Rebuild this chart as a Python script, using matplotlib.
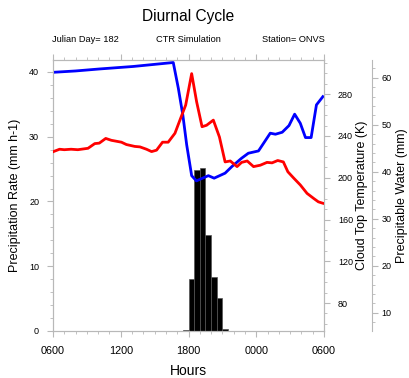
import numpy as np
import matplotlib
matplotlib.use("Agg")
import matplotlib.pyplot as plt
from matplotlib.ticker import MultipleLocator

plt.rcParams['font.family'] = ['Liberation Sans', 'DejaVu Sans']

# hours after 0600 local
bar_hours = [11.5, 12.0, 12.5, 13.0, 13.5, 14.0, 14.5, 15.0]
precip_rate = [0.1, 8.1, 24.9, 25.1, 14.9, 8.3, 5.1, 0.3]

ctt_hours = [0.0, 2.0, 4.1, 7.1, 10.65, 11.1, 11.5, 11.84, 12.28, 12.7, 13.76, 14.27,
             15.24, 15.84, 16.7, 17.3, 18.2, 19.24, 19.7, 20.3, 20.9, 21.4, 21.9,
             22.36, 22.86, 23.33, 23.9]
ctt = [301.0, 302.3, 304.2, 306.6, 310.4, 285.7, 260.0, 231.5, 202.0, 197.0, 202.0, 199.6,
       204.4, 210.7, 218.7, 223.5, 225.7, 242.7, 241.7, 243.6, 250.0, 260.9, 252.2,
       238.5, 238.5, 269.8, 277.7]

pw_hours = [0.04, 0.58, 1.0, 1.6, 2.2, 3.1, 3.7, 4.1, 4.67, 5.17, 6.06, 6.5, 7.24, 7.7,
            8.28, 8.73, 9.17, 9.7, 10.2, 10.8, 11.24, 11.75, 12.28, 12.72, 13.2, 13.6,
            14.2, 14.74, 15.24, 15.7, 16.3, 16.7, 17.2, 17.76, 18.36, 18.95, 19.4, 19.9,
            20.4, 20.8, 21.3, 21.9, 22.5, 23.1, 23.5, 23.9]
pw = [44.3, 44.8, 44.7, 44.8, 44.7, 45.0, 46.0, 46.1, 47.1, 46.7, 46.3, 45.8, 45.4, 45.3,
      44.8, 44.3, 44.6, 46.3, 46.3, 48.2, 51.0, 54.2, 60.9, 54.9, 49.6, 49.9,
      51.0, 47.4, 42.1, 42.3, 41.1, 42.0, 42.3, 41.1, 41.4, 42.0, 41.9, 42.4,
      42.1, 40.0, 38.7, 37.2, 35.4, 34.3, 33.6, 33.3]

xticks = [0, 6, 12, 18, 24]
xticklabels = ['0600', '1200', '1800', '0000', '0600']

spine_col = '#b8b8b8'

fig = plt.figure(figsize=(4.09, 3.78), dpi=100)
ax = fig.add_axes([53/409, 1-331/378, 271/409, 271/378])

ax.bar(bar_hours, precip_rate, width=0.5, align='edge', color='black',
       edgecolor='#555555', linewidth=0.5)
ax.set_xlim(0, 24)
ax.set_ylim(0, 41.85)
ax.set_xticks(xticks)
ax.set_xticklabels(xticklabels)
ax.xaxis.set_minor_locator(MultipleLocator(1))
ax.yaxis.set_major_locator(MultipleLocator(10))
ax.yaxis.set_minor_locator(MultipleLocator(2))
ax.tick_params(axis='x', which='both', top=True, direction='out', labelsize=7.8, pad=7)
ax.tick_params(axis='y', which='both', direction='out', labelsize=6.5, pad=6)
ax.tick_params(which='major', length=4, color=spine_col)
ax.tick_params(which='minor', length=2.3, color=spine_col)
ax.set_ylabel('Precipitation Rate (mm h-1)', fontsize=9)
ax.yaxis.set_label_coords(-0.118, 0.5)
ax.set_xlabel('Hours', fontsize=10)
ax.xaxis.set_label_coords(0.5, -0.122)
for s in ax.spines.values():
    s.set_color(spine_col)

# cloud top temperature
ax2 = ax.twinx()
ax2.plot(ctt_hours, ctt, color='#0000ff', linewidth=2)
ax2.set_ylim(53.2, 312.8)
ax2.set_yticks([80, 120, 160, 200, 240, 280])
ax2.yaxis.set_minor_locator(MultipleLocator(10))
ax2.tick_params(axis='y', which='both', direction='out', labelsize=6.5, pad=6)
ax2.tick_params(which='major', length=4, color=spine_col)
ax2.tick_params(which='minor', length=2.3, color=spine_col)
ax2.set_ylabel('Cloud Top Temperature (K)', fontsize=9)
ax2.yaxis.set_label_coords(1.117, 0.5)
for s in ax2.spines.values():
    s.set_color(spine_col)

# precipitable water
ax3 = ax.twinx()
ax3.spines['right'].set_position(('outward', 34.6))
ax3.plot(pw_hours, pw, color='#ff0000', linewidth=2)
ax3.set_ylim(6.1, 63.8)
ax3.yaxis.set_major_locator(MultipleLocator(10))
ax3.yaxis.set_minor_locator(MultipleLocator(2))
ax3.tick_params(axis='y', which='both', direction='out', labelsize=6.5, pad=3)
ax3.tick_params(which='major', length=4, color=spine_col)
ax3.tick_params(which='minor', length=2.3, color=spine_col)
ax3.set_ylabel('Precipitable Water (mm)', fontsize=9)
ax3.yaxis.set_label_coords(1.265, 0.5)
for name, s in ax3.spines.items():
    s.set_visible(name == 'right')
    s.set_color(spine_col)

ax2.set_zorder(ax.get_zorder() + 1)
ax3.set_zorder(ax.get_zorder() + 2)
ax2.patch.set_visible(False)
ax3.patch.set_visible(False)

fig.text(188.5/409, 1-16/378, 'Diurnal Cycle', ha='center', va='center', fontsize=11.2)
fig.text(52/409, 1-39/378, 'Julian Day= 182', ha='left', va='center', fontsize=6.7)
fig.text(188.5/409, 1-39/378, 'CTR Simulation', ha='center', va='center', fontsize=6.7)
fig.text(325/409, 1-39/378, 'Station= ONVS', ha='right', va='center', fontsize=6.7)

fig.savefig('out.png', dpi=100)
